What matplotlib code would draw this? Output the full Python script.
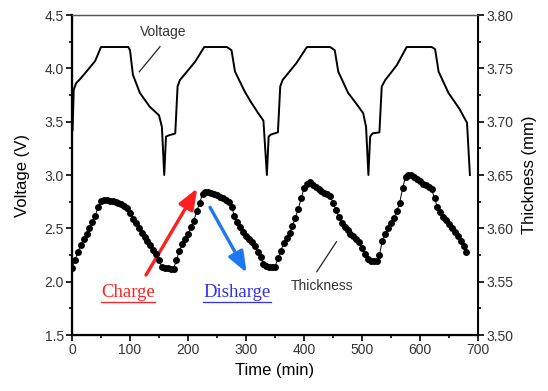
import matplotlib.pyplot as plt
import numpy as np
from matplotlib.lines import Line2D
from matplotlib.ticker import MultipleLocator

# voltage curve (time in min, voltage in V)
time_v = [1, 3, 7, 14, 28, 40, 50, 97, 100, 105, 117, 134, 150, 155, 159, 162, 166, 178,
          182, 186, 212, 228, 267, 275, 281, 298, 309, 321, 330, 336, 339, 343, 355,
          359, 363, 387, 405, 445, 453, 459, 476, 490, 502, 507, 511, 514, 518, 530,
          534, 540, 560, 577, 620, 626, 632, 649, 668, 681, 686]
voltage = [3.42, 3.80, 3.86, 3.90, 3.99, 4.07, 4.20, 4.20, 4.17, 3.94, 3.77, 3.64, 3.56, 3.45, 3.00, 3.36, 3.37, 3.39,
           3.83, 3.89, 4.06, 4.20, 4.20, 4.17, 3.97, 3.78, 3.68, 3.58, 3.51, 3.00, 3.36, 3.38, 3.40,
           3.83, 3.89, 4.05, 4.20, 4.20, 4.17, 3.97, 3.77, 3.67, 3.58, 3.45, 3.00, 3.36, 3.39, 3.40,
           3.83, 3.89, 4.03, 4.20, 4.20, 4.18, 3.97, 3.77, 3.62, 3.49, 3.00]

# thickness, sampled every 5 min from 0 to 680
time_th = np.arange(0, 681, 5)
thickness = [
    3.563, 3.570, 3.578, 3.584, 3.590, 3.595, 3.600, 3.606, 3.612, 3.620,
    3.626, 3.627, 3.627, 3.626, 3.626, 3.625, 3.624, 3.623, 3.621, 3.619,
    3.614, 3.609, 3.605, 3.600, 3.596, 3.592, 3.588, 3.584, 3.580, 3.576,
    3.570, 3.564, 3.563, 3.563, 3.562, 3.562, 3.570, 3.579, 3.585, 3.590,
    3.595, 3.601, 3.607, 3.616, 3.624, 3.632, 3.634, 3.634, 3.633, 3.632,
    3.631, 3.629, 3.628, 3.627, 3.625, 3.620, 3.612, 3.606, 3.601, 3.597,
    3.593, 3.590, 3.587, 3.583, 3.578, 3.573, 3.567, 3.565, 3.564, 3.564,
    3.564, 3.572, 3.579, 3.586, 3.591, 3.596, 3.602, 3.610, 3.618, 3.628,
    3.638, 3.642, 3.643, 3.641, 3.639, 3.637, 3.635, 3.633, 3.632, 3.630,
    3.624, 3.617, 3.611, 3.605, 3.601, 3.598, 3.595, 3.593, 3.590, 3.587,
    3.582, 3.576, 3.571, 3.569, 3.569, 3.569, 3.575, 3.588, 3.595, 3.600,
    3.605, 3.610, 3.616, 3.624, 3.638, 3.648, 3.650, 3.650, 3.648, 3.646,
    3.644, 3.642, 3.641, 3.639, 3.637, 3.628, 3.620, 3.615, 3.611, 3.608,
    3.604, 3.600, 3.597, 3.593, 3.588, 3.583, 3.578]

plt.rcParams["font.family"] = ["Liberation Sans", "DejaVu Sans"]

fig = plt.figure(figsize=(5.48, 3.91), dpi=100)
ax = fig.add_axes([0.1314, 0.1432, 0.7409, 0.8184])
ax2 = ax.twinx()

ax.plot(time_v, voltage, color="black", lw=1.4)
ax2.plot(time_th, thickness, color="black", lw=0.7, marker="o", ms=5.0,
         markeredgewidth=0)

ax.set_xlim(0, 700)
ax.set_ylim(1.5, 4.5)
ax2.set_ylim(3.5, 3.8)
ax.xaxis.set_major_locator(MultipleLocator(100))
ax.xaxis.set_minor_locator(MultipleLocator(50))
ax.yaxis.set_major_locator(MultipleLocator(0.5))
ax.yaxis.set_minor_locator(MultipleLocator(0.25))
ax2.yaxis.set_major_locator(MultipleLocator(0.05))
ax2.yaxis.set_minor_locator(MultipleLocator(0.025))
ax2.set_yticklabels([f"{v:.2f}" for v in ax2.get_yticks()])

for a in (ax, ax2):
    a.tick_params(which="major", direction="out", length=4, width=1.2,
                  labelsize=10, labelcolor="#333333", pad=2)
    a.tick_params(which="minor", direction="out", length=2.5, width=1.2)
    a.spines["top"].set_linewidth(0.9)
    a.spines["top"].set_color("#555555")
ax.spines["left"].set_linewidth(1.6)
ax.spines["bottom"].set_linewidth(1.6)
ax2.spines["right"].set_linewidth(1.4)

ax.set_xlabel("Time (min)", fontsize=12, labelpad=4)
ax.set_ylabel("Voltage (V)", fontsize=12, labelpad=10)
ax2.set_ylabel("Thickness (mm)", fontsize=12, labelpad=6)

# labels with pointer lines
ax.text(157, 4.34, "Voltage", fontsize=10, color="#333333", ha="center", va="center")
ax.plot([151.7, 116], [4.203, 3.968], color="#222222", lw=0.9)
ax.text(431, 1.96, "Thickness", fontsize=10, color="#333333", ha="center", va="center")
ax.plot([422, 456], [2.093, 2.375], color="#222222", lw=0.9)

# charge / discharge arrows
ax.annotate("", xy=(216, 2.875), xytext=(127.6, 2.0625),
            arrowprops=dict(arrowstyle="-|>,head_length=0.9,head_width=0.35",
                            color="#ff1f1f", lw=2.4, mutation_scale=14,
                            shrinkA=0, shrinkB=0))
ax.annotate("", xy=(301, 2.084), xytext=(238, 2.697),
            arrowprops=dict(arrowstyle="-|>,head_length=0.9,head_width=0.35",
                            color="#1e78f0", lw=2.4, mutation_scale=14,
                            shrinkA=0, shrinkB=0))

t_charge = ax.text(96.5, 1.899, "Charge", fontsize=13.5, color="#ff2020",
                   family=["Liberation Serif", "DejaVu Serif"], ha="center", va="center")
t_dis = ax.text(284.5, 1.899, "Disharge", fontsize=13.5, color="#3030f0",
                family=["Liberation Serif", "DejaVu Serif"], ha="center", va="center")

# underline the two labels
fig.canvas.draw()
renderer = fig.canvas.get_renderer()
for t, c in ((t_charge, "#ff2020"), (t_dis, "#3030f0")):
    bb = t.get_window_extent(renderer).transformed(fig.transFigure.inverted())
    y = bb.y0 - 0.002
    fig.add_artist(Line2D([bb.x0, bb.x1], [y, y], transform=fig.transFigure,
                          color=c, lw=0.9))

plt.savefig("out.png", dpi=100)
plt.close()
